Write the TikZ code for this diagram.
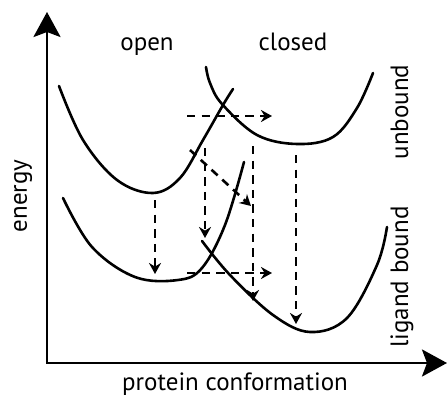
\documentclass[tikz,border=0pt]{standalone}
\usepackage{fontspec}
\setmainfont{PT Sans}
\usetikzlibrary{arrows.meta}

\begin{document}
\begin{tikzpicture}[x=1pt, y=-1pt, line join=round,
  axis/.style={line width=2.8pt, line cap=rect, -{Stealth[length=25pt, width=27pt, inset=5pt]}},
  well/.style={line width=2.6pt, line cap=round},
  move/.style={line width=2.6pt, dash pattern=on 8.3pt off 6.3pt, -{Stealth[length=11pt, width=12pt]}},
  lbl/.style={font=\fontsize{25}{29}\selectfont, inner sep=0pt, anchor=base}]
\useasboundingbox (0,0) rectangle (447,396);
% axes
\coordinate (O) at (47,363);
\coordinate (ytop) at (47,12);
\coordinate (xend) at (447,363);
\draw[axis] (O) -- (ytop);
\draw[axis] (O) -- (xend);
% energy wells: unbound (top), ligand bound (bottom)
\draw[well] plot[smooth, tension=0.6] coordinates {(59,86) (83,140) (117,180) (153,193) (180,178) (203,140) (223,105) (233,89)};
\draw[well] plot[smooth, tension=0.6] coordinates {(206,67) (210,83) (222,104) (257,135) (297,144) (333,137) (357,108) (373,73)};
\draw[well] plot[smooth, tension=0.6] coordinates {(63,198) (92,247) (135,277) (178,280) (202,268) (225,225) (244,162)};
\draw[well] plot[smooth, tension=0.6] coordinates {(202,241) (230,275) (273,315) (310,332) (347,318) (377,265) (387,227)};
% transitions
\coordinate (hu1) at (187,116); \coordinate (hu2) at (272,116);
\coordinate (hl1) at (187,273); \coordinate (hl2) at (272,273);
\coordinate (v1a) at (155,200); \coordinate (v1b) at (155,274);
\coordinate (v2a) at (205,148); \coordinate (v2b) at (205,238);
\coordinate (v3a) at (253,146); \coordinate (v3b) at (253,301);
\coordinate (v4a) at (296,155); \coordinate (v4b) at (296,324);
\coordinate (d1) at (190,150);  \coordinate (d2) at (251,206);
\draw[move] (hu1) -- (hu2);
\draw[move] (hl1) -- (hl2);
\draw[move] (v1a) -- (v1b);
\draw[move] (v2a) -- (v2b);
\draw[move] (v3a) -- (v3b);
\draw[move] (v4a) -- (v4b);
\draw[move] (d1) -- (d2);
% labels
\node[lbl] (open) at (147,51) {open};
\node[lbl] (closed) at (293,51) {closed};
\node[lbl, rotate=90] (unbound) at (408,112) {unbound};
\node[lbl, rotate=90] (bound) at (408,277) {ligand bound};
\node[lbl, rotate=90] (energy) at (27,196) {energy};
\node[lbl] (conf) at (235,390) {protein conformation};
\end{tikzpicture}
\end{document}
